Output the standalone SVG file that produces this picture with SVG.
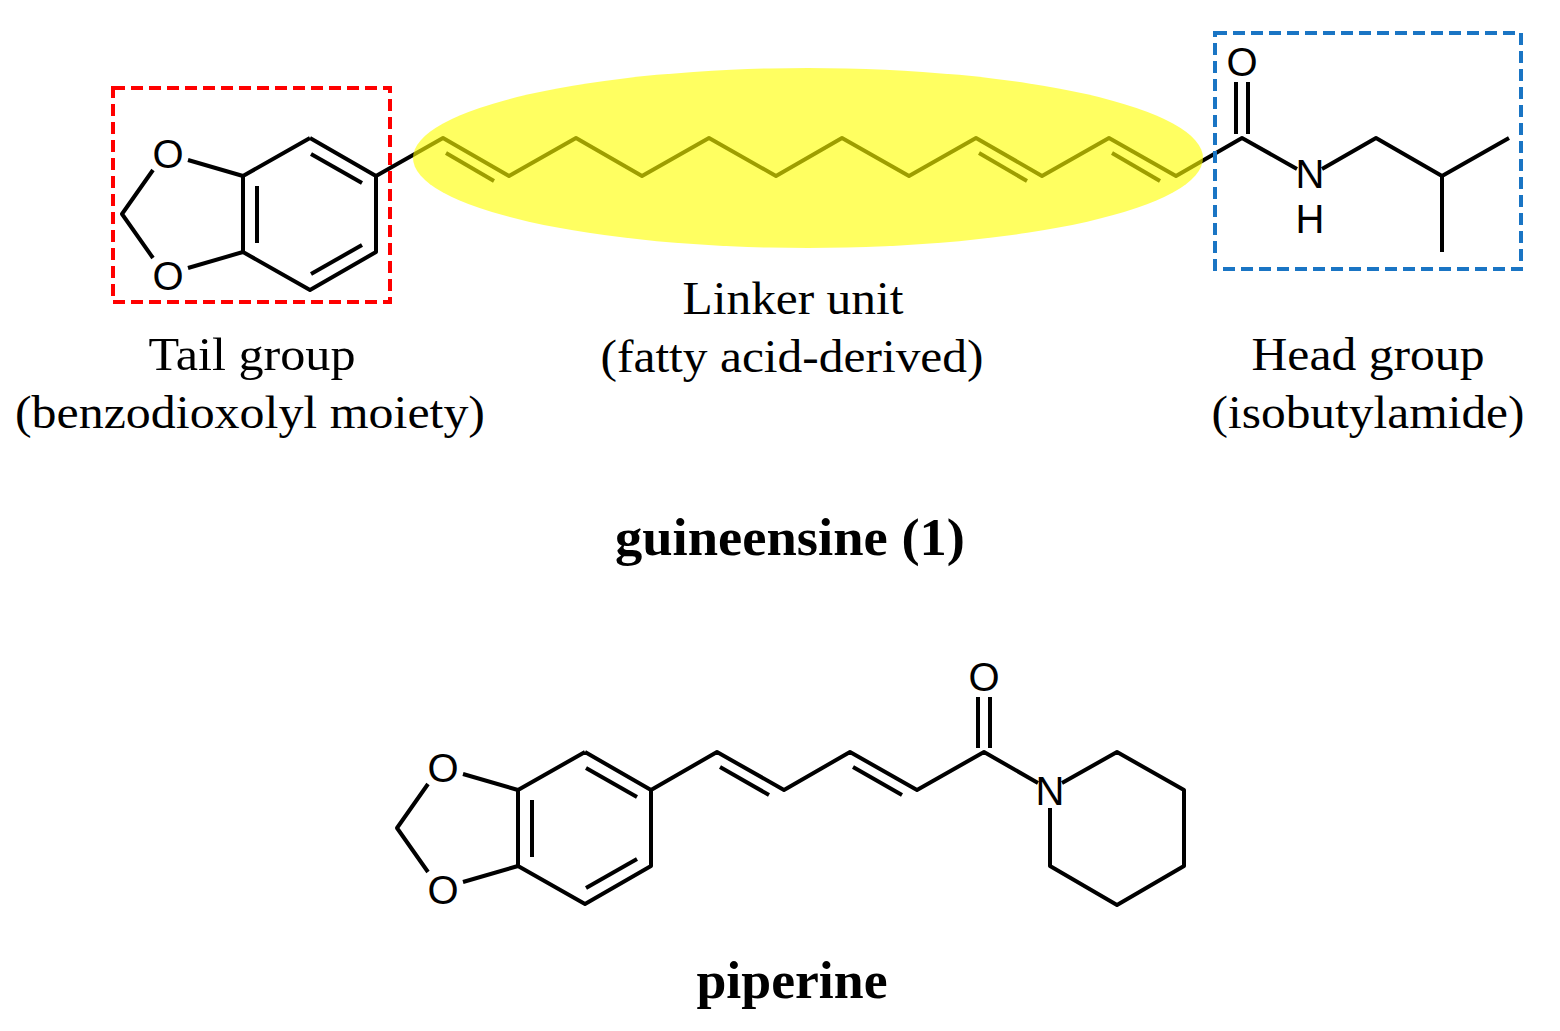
<svg xmlns="http://www.w3.org/2000/svg" width="1560" height="1031" viewBox="0 0 1560 1031">
<style>
.b{stroke:#000;stroke-width:4;fill:none;stroke-linejoin:round;stroke-linecap:butt}
.a{font-family:"Liberation Sans",Arial,sans-serif;font-size:40px;fill:#000;text-anchor:middle}
.t{font-family:"Liberation Serif","Times New Roman",serif;font-size:46px;fill:#000;text-anchor:middle}
.h{font-family:"Liberation Serif","Times New Roman",serif;font-size:52px;font-weight:bold;fill:#000;text-anchor:middle}
</style>
<rect width="1560" height="1031" fill="#fff"/>
<defs>
<g id="bdx">
<polyline class="b" points="310,138 376,176 376,252 310,290 243,252 243,176 310,138"/>
<line class="b" x1="257" y1="186" x2="257" y2="243"/>
<line class="b" x1="311" y1="154" x2="362" y2="183"/>
<line class="b" x1="362" y1="245" x2="311" y2="274"/>
<line class="b" x1="243" y1="176" x2="188" y2="160"/>
<line class="b" x1="243" y1="252" x2="188" y2="268"/>
<polyline class="b" points="153,170 122,214 153,258"/>
<text class="a" x="168" y="168">O</text>
<text class="a" x="168" y="290">O</text>
</g>
</defs>
<g id="guineensine">
<use href="#bdx"/>
<polyline class="b" points="376,176 443,138 509,176 576,138 642,176 709,138 776,176 842,138 909,176 976,138 1042,176 1109,138 1176,176 1242,138 1297,169"/>
<line class="b" x1="446" y1="153" x2="494" y2="181"/>
<line class="b" x1="979" y1="153" x2="1027" y2="181"/>
<line class="b" x1="1112" y1="153" x2="1160" y2="181"/>
<line class="b" x1="1236" y1="134" x2="1236" y2="82"/>
<line class="b" x1="1248" y1="134" x2="1248" y2="82"/>
<polyline class="b" points="1322,169 1376,138 1442,176 1509,138"/>
<line class="b" x1="1442" y1="176" x2="1442" y2="252"/>
<text class="a" x="1242" y="76">O</text>
<text class="a" x="1310" y="188">N</text>
<text class="a" x="1310" y="233">H</text>
</g>
<g id="linker">
<ellipse cx="808" cy="158" rx="395" ry="90" fill="#ffff00" fill-opacity="0.62"/>
</g>
<g id="tailbox"><rect x="113" y="88" width="277" height="214" fill="none" stroke="#ff0000" stroke-width="4" stroke-dasharray="12,6"/></g>
<g id="headbox"><rect x="1215" y="33" width="306" height="236" fill="none" stroke="#1a75c4" stroke-width="4" stroke-dasharray="12,6"/></g>
<g id="labels">
<text class="t" x="793" y="314" textLength="221" lengthAdjust="spacingAndGlyphs">Linker unit</text>
<text class="t" x="792" y="372" textLength="383" lengthAdjust="spacingAndGlyphs">(fatty acid-derived)</text>
<text class="t" x="252" y="370" textLength="207" lengthAdjust="spacingAndGlyphs">Tail group</text>
<text class="t" x="250" y="428" textLength="470" lengthAdjust="spacingAndGlyphs">(benzodioxolyl moiety)</text>
<text class="t" x="1368" y="370" textLength="233" lengthAdjust="spacingAndGlyphs">Head group</text>
<text class="t" x="1368" y="428" textLength="313" lengthAdjust="spacingAndGlyphs">(isobutylamide)</text>
<text class="h" x="790" y="555" textLength="350" lengthAdjust="spacingAndGlyphs">guineensine (1)</text>
<text class="h" x="792" y="998" textLength="191" lengthAdjust="spacingAndGlyphs">piperine</text>
</g>
<g id="piperine">
<use href="#bdx" transform="translate(275,614)"/>
<polyline class="b" points="651,790 717,752 784,790 850,752 917,790 984,752 1038,783"/>
<line class="b" x1="720" y1="767" x2="769" y2="795"/>
<line class="b" x1="853" y1="767" x2="902" y2="795"/>
<line class="b" x1="978" y1="748" x2="978" y2="697"/>
<line class="b" x1="990" y1="748" x2="990" y2="697"/>
<polyline class="b" points="1062,783 1117,752 1184,790 1184,866 1117,905 1050,866 1050,808"/>
<text class="a" x="984" y="691">O</text>
<text class="a" x="1050" y="805">N</text>
</g>
</svg>
